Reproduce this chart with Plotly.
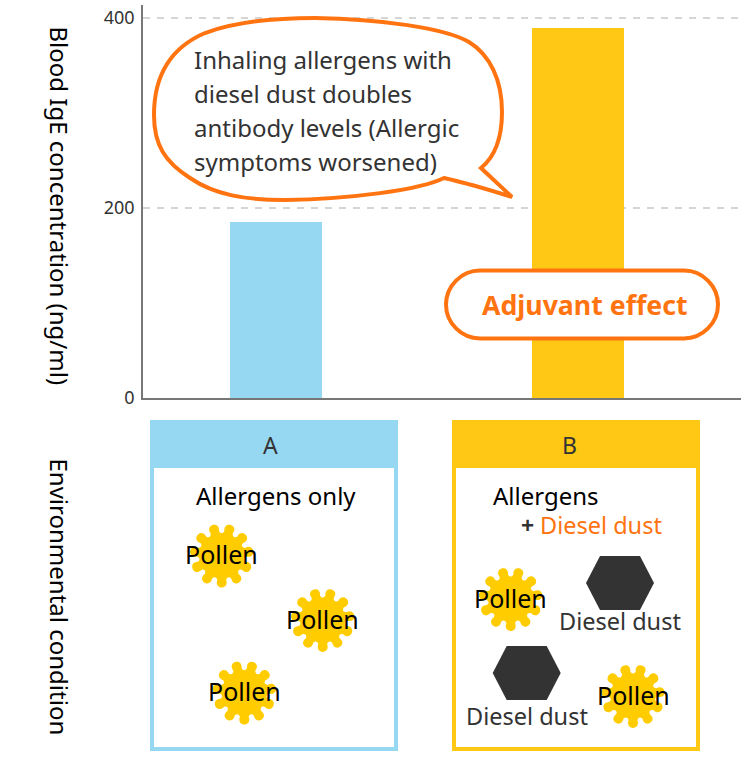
import math
import plotly.graph_objects as go

# Data
categories = ["A", "B"]
ige_values = [185, 389]
bar_colors = ["#96D8F2", "#FFC815"]
y_ticks = [0, 200, 400]
y_tick_labels = ["0", "200", "400"]
bubble_lines = ["Inhaling allergens with", "diesel dust doubles",
                "antibody levels (Allergic", "symptoms worsened)"]

ORANGE = "#FF7410"
DARK = "#333333"
POLLEN = "#FFCC00"
FONT = "Noto Sans"

W, H = 751, 776
L, R, T, B = 143, 741, 5, 398


def px(x):
    return (x - L) / (R - L)


def py(y):
    return (B - y) / (B - T)


def pt(x, y):
    return f"{px(x):.5f},{py(y):.5f}"


shapes = []
ann = []


def text(x, y, s, size, color=DARK, anchor="left", angle=0, weight=None):
    label = f"<b>{s}</b>" if weight else s
    ann.append(dict(xref="paper", yref="paper", x=px(x), y=py(y - 1.5), text=label, showarrow=False,
                    xanchor=anchor, yanchor="middle", textangle=angle,
                    font=dict(family=FONT, size=size, color=color)))


def rect(x0, y0, x1, y1, fill, line=None, lw=0):
    shapes.append(dict(type="rect", xref="paper", yref="paper", x0=px(x0), x1=px(x1),
                       y0=py(y0), y1=py(y1), fillcolor=fill,
                       line=dict(color=line or fill, width=lw)))


def path(d, fill, line=None, lw=0):
    shapes.append(dict(type="path", xref="paper", yref="paper", path=d, fillcolor=fill,
                       line=dict(color=line or fill, width=lw)))


def pollen(cx, cy):
    n = 11
    rb, rt, rv = 24.5, 35.5, 20.5
    step = 2 * math.pi / n
    hw = step * 0.31
    cw = step * 0.42

    def polar(r, a):
        return (cx + r * math.cos(a), cy + r * math.sin(a))

    d = ""
    for i in range(n):
        mid = math.pi / 2 + i * step
        if i == 0:
            d += "M" + pt(*polar(rb, mid - hw))
        d += " C" + pt(*polar(rt, mid - cw)) + " " + pt(*polar(rt, mid + cw)) + " " + pt(*polar(rb, mid + hw))
        d += " Q" + pt(*polar(rv, mid + step / 2)) + " " + pt(*polar(rb, mid + step - hw))
    path(d + " Z", POLLEN)
    text(cx, cy, "Pollen", 25, "#000000", "center")


def hexagon(cx, cy):
    pts = [(cx - 34, cy), (cx - 20, cy - 27), (cx + 20, cy - 27),
           (cx + 34, cy), (cx + 20, cy + 27), (cx - 20, cy + 27)]
    path("M" + " L".join(pt(*p) for p in pts) + " Z", DARK)


# Speech bubble
bubble = [
    ("M", (512, 197)),
    ("C", (490, 190), (462, 182), (444, 178)),
    ("C", (420, 190), (350, 199), (285, 200)),
    ("C", (245, 200), (215, 195), (190, 178)),
    ("C", (165, 162), (154, 145), (154, 115)),
    ("C", (154, 75), (170, 48), (205, 33)),
    ("C", (240, 20), (280, 18), (315, 18)),
    ("C", (380, 19), (445, 28), (469, 42)),
    ("C", (490, 55), (502, 80), (502, 112)),
    ("C", (502, 135), (497, 155), (481, 168)),
    ("L", (512, 197)),
]
d = ""
for seg in bubble:
    d += seg[0] + " ".join(pt(*p) for p in seg[1:]) + " "
path(d + "Z", "#FFFFFF", ORANGE, 4)
for y, line in zip([61, 95, 129, 163], bubble_lines):
    text(192, y, line, 24)

# Adjuvant pill
x0, x1, y0, y1, r = 446, 718, 270.5, 338.5, 34
pill = ("M" + pt(x0 + r, y0) + " L" + pt(x1 - r, y0)
        + " C" + pt(x1 - r / 2.2, y0) + " " + pt(x1, y0 + r / 2.2) + " " + pt(x1, y0 + r)
        + " C" + pt(x1, y1 - r / 2.2) + " " + pt(x1 - r / 2.2, y1) + " " + pt(x1 - r, y1)
        + " L" + pt(x0 + r, y1)
        + " C" + pt(x0 + r / 2.2, y1) + " " + pt(x0, y1 - r / 2.2) + " " + pt(x0, y0 + r)
        + " C" + pt(x0, y0 + r / 2.2) + " " + pt(x0 + r / 2.2, y0) + " " + pt(x0 + r, y0) + " Z")
path(pill, "#FFFFFF", ORANGE, 4)
text(585, 305.5, "Adjuvant effect", 26.7, ORANGE, "center", weight=True)

# Condition boxes
for (bx0, bx1), color, name in zip([(152, 396), (454, 698)], bar_colors, categories):
    rect(bx0, 422, bx1, 749, "#FFFFFF", color, 4)
    rect(bx0 - 2, 420, bx1 + 2, 468, color)
    text((bx0 + bx1) / 2 - 4 * (name == "A") - 7 * (name == "B"), 446.5, name, 23, DARK, "center")

text(276, 497, "Allergens only", 24, "#000000", "center")
text(491, 497, "Allergens", 24, "#000000")
text(519, 526, "+", 23, DARK, weight=True)
text(538, 526, "Diesel dust", 23.5, ORANGE)

for c in [(221.7, 555.7), (322.7, 620), (244.3, 692.7), (510.7, 599), (633, 696)]:
    pollen(*c)
for c in [(620, 583), (526.7, 673)]:
    hexagon(*c)
text(620, 622, "Diesel dust", 23.5, DARK, "center")
text(527, 717, "Diesel dust", 23.5, DARK, "center")

# Axis titles
text(59, 207, "Blood IgE concentration (ng/ml)", 24, "#000000", "center", 90)
text(59, 598, "Environmental condition", 24, "#000000", "center", 90)

fig = go.Figure(go.Bar(x=categories, y=ige_values, marker=dict(color=bar_colors, line_width=0),
                       width=92 / 302, showlegend=False, hoverinfo="skip"))
fig.update_layout(
    width=W, height=H, autosize=False,
    margin=dict(l=L, r=W - R, t=T, b=H - B, autoexpand=False),
    paper_bgcolor="#FFFFFF", plot_bgcolor="#FFFFFF",
    shapes=shapes, annotations=ann,
    font=dict(family=FONT, color=DARK),
    xaxis=dict(type="category", range=[-133 / 302, 465 / 302], showticklabels=False, ticks="",
               showgrid=False, zeroline=False, showline=True, linecolor="#777777", linewidth=1.5,
               fixedrange=True),
    yaxis=dict(range=[0, 393 / 0.951], tickvals=y_ticks, ticktext=y_tick_labels,
               tickfont=dict(family=FONT, size=18, color=DARK), ticks="outside", ticklen=3,
               tickcolor="rgba(0,0,0,0)", showline=True, linecolor="#777777", linewidth=1.5,
               showgrid=True, gridcolor="#D5D5D5", griddash="7px,7px", gridwidth=1.5,
               zeroline=False, fixedrange=True),
)
fig.write_html("out.html", config=dict(displayModeBar=False),
               post_script="document.body.style.margin='0';document.body.style.overflow='hidden';")
